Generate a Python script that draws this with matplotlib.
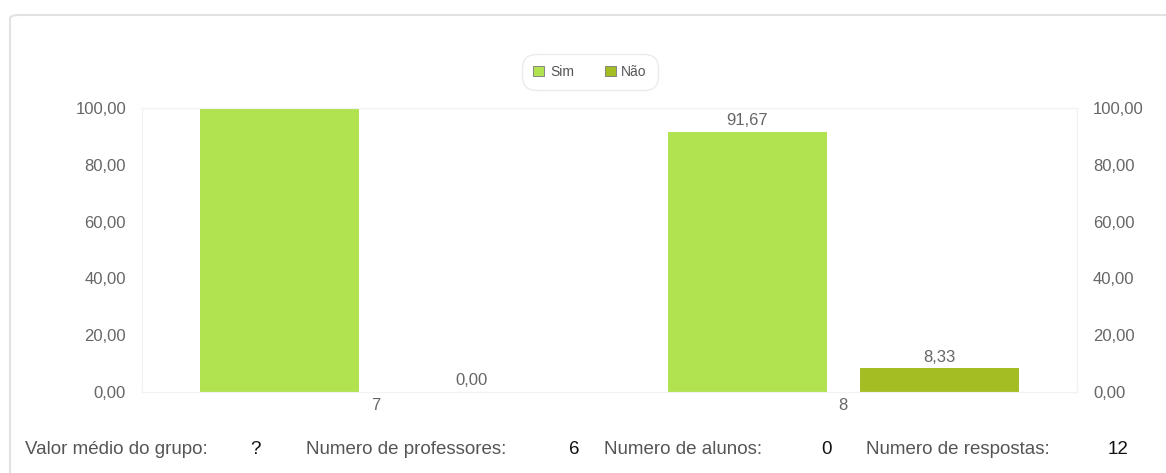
import numpy as np
import matplotlib.pyplot as plt
from matplotlib.patches import FancyBboxPatch

categories = ['7', '8']
sim = [100.00, 91.67]
nao = [0.00, 8.33]
series_labels = ['Sim', 'Não']
colors = ['#b0e34f', '#a3bd22']
footer = [('Valor médio do grupo:', '?'), ('Numero de professores:', '6'),
          ('Numero de alunos:', '0'), ('Numero de respostas:', '12')]

plt.rcParams['font.family'] = ['Liberation Sans', 'DejaVu Sans']

fig = plt.figure(figsize=(11.66, 4.73), dpi=100)

# card frame
card = FancyBboxPatch((10 / 1166, -0.1), 1.2, 1 - 15 / 473 + 0.1,
                      boxstyle='round,pad=0,rounding_size=0.008',
                      transform=fig.transFigure, fill=False,
                      edgecolor='#e2e2e2', linewidth=1.5)
fig.patches.append(card)

ax = fig.add_axes([142 / 1166, 1 - 392 / 473, 935 / 1166, 284 / 473])
x = np.arange(len(categories))
w = 0.34
off = 0.205
b1 = ax.bar(x - off, sim, w, color=colors[0], label=series_labels[0])
b2 = ax.bar(x + off, nao, w, color=colors[1], label=series_labels[1])

for bars, vals in [(b1, sim), (b2, nao)]:
    for b, v in zip(bars, vals):
        if v < 99.9:
            ax.text(b.get_x() + b.get_width() / 2, v + 1.3,
                    f'{v:.2f}'.replace('.', ','), ha='center', va='bottom',
                    fontsize=12, color='#666666')

ax.set_xlim(-0.5, 1.5)
ax.set_ylim(0, 100)
ticks = [0, 20, 40, 60, 80, 100]
ax.set_yticks(ticks)
ax.set_yticklabels([f'{t:.2f}'.replace('.', ',') for t in ticks])
ax.set_xticks(x)
ax.set_xticklabels(categories)
ax.tick_params(axis='both', length=0, colors='#666666', labelsize=12)
ax.tick_params(axis='y', pad=11.5)
ax.tick_params(axis='x', pad=4)
ax2 = ax.twinx()
ax2.set_ylim(0, 100)
ax2.set_yticks(ticks)
ax2.set_yticklabels([f'{t:.2f}'.replace('.', ',') for t in ticks])
ax2.tick_params(axis='y', length=0, colors='#666666', labelsize=12, pad=11.5)
for a in (ax, ax2):
    for s in a.spines.values():
        s.set_color('#f2f2f2')
        s.set_linewidth(0.8)

leg = fig.legend(handles=[b1, b2], loc='center', bbox_to_anchor=(590 / 1166, 1 - 72 / 473),
                 ncol=2, frameon=True, fontsize=10, handlelength=0.8, handleheight=0.8,
                 columnspacing=2.2, handletextpad=0.4, borderpad=0.6, fancybox=True)
leg.get_frame().set_edgecolor('#e6e6e6')
leg.get_frame().set_boxstyle('round,pad=0.2,rounding_size=1.0')
for t in leg.get_texts():
    t.set_color('#555555')
for h in leg.legend_handles:
    h.set_edgecolor('#777777')
    h.set_linewidth(0.6)

xs = [(25, 255), (306, 574), (604, 827), (866, 1118)]
for (lbl, val), (xl, xv) in zip(footer, xs):
    fig.text(xl / 1166, 1 - 449 / 473, lbl, fontsize=13.5, color='#555555', va='center')
    fig.text(xv / 1166, 1 - 449 / 473, val, fontsize=13.5, color='#111111', va='center',
             ha='center')

fig.savefig('out.png', dpi=100)
